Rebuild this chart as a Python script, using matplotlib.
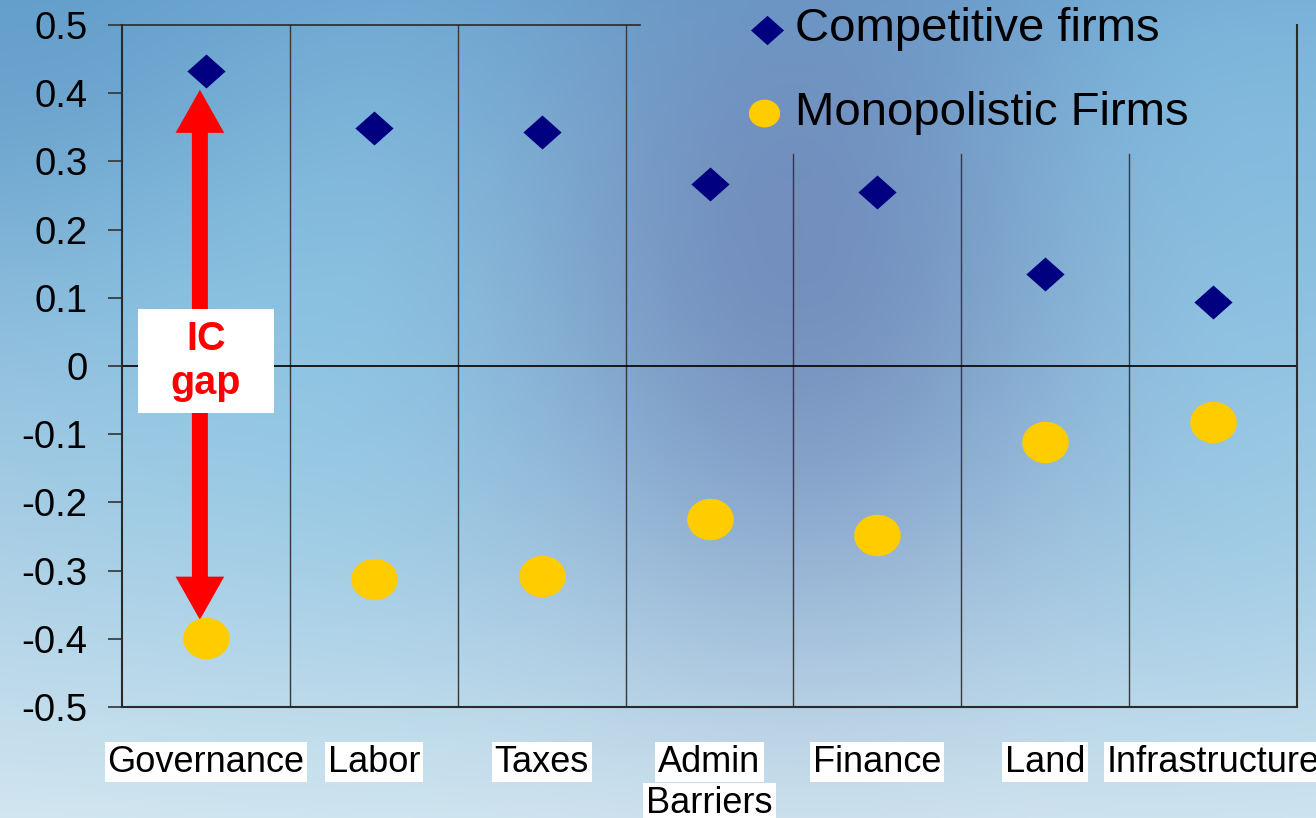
import numpy as np
import matplotlib
matplotlib.use("Agg")
import matplotlib.pyplot as plt
from matplotlib.lines import Line2D
from matplotlib.patches import FancyArrowPatch, Rectangle, Wedge, ArrowStyle
from matplotlib.colors import to_rgb

plt.rcParams['font.family'] = ['Liberation Sans', 'DejaVu Sans']

# data
categories = ['Governance', 'Labor', 'Taxes', 'Admin\nBarriers',
              'Finance', 'Land', 'Infrastructure']
competitive = [0.433, 0.349, 0.343, 0.267, 0.255, 0.135, 0.094]
monopolistic = [-0.399, -0.312, -0.308, -0.224, -0.248, -0.111, -0.082]
series_names = ['Competitive firms', 'Monopolistic Firms']
yticks = [-0.5, -0.4, -0.3, -0.2, -0.1, 0.0, 0.1, 0.2, 0.3, 0.4, 0.5]
ytick_labels = ['-0.5', '-0.4', '-0.3', '-0.2', '-0.1', '0',
                '0.1', '0.2', '0.3', '0.4', '0.5']

# figure geometry (pixels)
W, H, DPI = 1316, 818, 100
fig = plt.figure(figsize=(W / DPI, H / DPI), dpi=DPI)

# background: soft blue gradient with a few colour blobs
bg = fig.add_axes([0, 0, 1, 1], zorder=-10)
yy, xx = np.mgrid[0:H, 0:W].astype(float)
t = (yy / H)[..., None]
img = np.array(to_rgb('#6aa4d0')) * (1 - t) + np.array(to_rgb('#d2e6f0')) * t


def blend(img, cx, cy, sx, sy, color, strength):
    w = strength * np.exp(-0.5 * ((xx - cx) / sx) ** 2
                          - 0.5 * ((yy - cy) / sy) ** 2)[..., None]
    return img * (1 - w) + np.array(to_rgb(color)) * w


img = blend(img, 330, 320, 230, 220, '#8ccbe8', 0.6)
img = blend(img, 1230, 380, 170, 220, '#92cbe8', 0.55)
img = blend(img, 800, 250, 190, 250, '#6d84b6', 0.8)
img = blend(img, 1300, 100, 180, 160, '#86c0e2', 0.5)
img = blend(img, 30, 30, 200, 160, '#5c96c4', 0.5)
img = np.clip(img, 0, 1)
bg.imshow(img, extent=[0, W, H, 0], aspect='auto', interpolation='bilinear')

# faint swoosh in the lower right
for (cx, cy, r, wd, t1, t2, col, a) in [
        (1040, 1180, 640, 80, 62, 118, 'white', 0.18),
        (1480, 1000, 440, 55, 95, 150, 'white', 0.22),
        (1100, 1300, 700, 60, 35, 70, '#6aa8d4', 0.2)]:
    bg.add_patch(Wedge((cx, cy), r, t1, t2, width=wd, facecolor=col,
                       edgecolor='none', alpha=a))
bg.set_xlim(0, W)
bg.set_ylim(H, 0)
bg.axis('off')

# main axes
ax = fig.add_axes([122 / W, 1 - 707 / H, (1297 - 122) / W, (707 - 25) / H])
ax.patch.set_alpha(0)
x = np.arange(len(categories))
ax.set_xlim(-0.5, len(categories) - 0.5)
ax.set_ylim(-0.5, 0.5)

# marker shapes: slightly flattened diamond and ellipse
diamond = [(-1, 0), (0, 0.89), (1, 0), (0, -0.89), (-1, 0)]
theta = np.linspace(0, 2 * np.pi, 60)
ellipse = list(zip(np.cos(theta), 0.89 * np.sin(theta)))

# category separators; the right ones stop below the legend
legend_edge = (640 - 122) / (1297 - 122)
for b in x[:-1] + 0.5:
    frac = (b + 0.5) / len(categories)
    ax.axvline(b, ymin=0, ymax=1 if frac < legend_edge else 0.811,
               color='#383838', lw=1.0, zorder=1)
ax.axhline(0, color='black', lw=1.2, zorder=1)

ax.plot(x, competitive, linestyle='none', marker=diamond, markersize=27.5,
        color='#000080', markeredgewidth=0, zorder=4)
ax.plot(x, monopolistic, linestyle='none', marker=ellipse, markersize=33.5,
        color='#ffcc00', markeredgewidth=0, zorder=4)

# spines
ax.spines['top'].set_visible(False)
for s in ['left', 'bottom', 'right']:
    ax.spines[s].set_color('#2a2a2a')
    ax.spines[s].set_linewidth(1.5)
ax.plot([0, legend_edge], [1, 1], transform=ax.transAxes, color='#2a2a2a',
        lw=1.2, clip_on=False)

ax.set_xticks([])
ax.set_yticks(yticks)
ax.set_yticklabels(ytick_labels)
ax.tick_params(axis='y', length=10, width=1.2, color='#333333', pad=15,
               labelsize=27.5)

# category labels on white boxes, one box per line
for i, label in enumerate(categories):
    for j, line in enumerate(label.split('\n')):
        ax.annotate(line, xy=(i, 0), xycoords=('data', 'axes fraction'),
                    xytext=(0, -27 - j * 30), textcoords='offset points',
                    ha='center', va='top', fontsize=26, color='black',
                    bbox=dict(boxstyle='square,pad=0.08', fc='white',
                              ec='none'),
                    annotation_clip=False)

# double-headed "IC gap" arrow for the first category
ax_x = x[0] - 0.036
top_tip = competitive[0] - 0.028
bot_tip = monopolistic[0] + 0.027
mid = (top_tip + bot_tip) / 2
style = ArrowStyle('Simple', head_length=31, head_width=35, tail_width=11.5)
for tip in (top_tip, bot_tip):
    ax.add_patch(FancyArrowPatch((ax_x, mid), (ax_x, tip), arrowstyle=style,
                                 mutation_scale=1, color='#ff0000', lw=0,
                                 shrinkA=0, shrinkB=0, zorder=3))
ax.add_patch(Rectangle((x[0] - 0.405, 0.007 - 0.076), 0.81, 0.152,
                       facecolor='white', edgecolor='none', zorder=5))
ax.text(x[0], 0.007, 'IC\ngap', ha='center', va='center', fontsize=28.5,
        fontweight='bold', color='#ff0000', linespacing=1.2, zorder=6)

# legend
fig.add_artist(Line2D([767 / W], [1 - 30 / H], transform=fig.transFigure,
                      marker=diamond, markersize=23.8, color='#000080',
                      markeredgewidth=0, linestyle='none'))
fig.add_artist(Line2D([764 / W], [1 - 113 / H], transform=fig.transFigure,
                      marker=ellipse, markersize=22.5, color='#ffcc00',
                      markeredgewidth=0, linestyle='none'))
fig.text(795 / W, 1 - 29 / H, series_names[0], fontsize=34,
         va='center', ha='left')
fig.text(795 / W, 1 - 113 / H, series_names[1], fontsize=34,
         va='center', ha='left')

fig.savefig('out.png', dpi=DPI)
